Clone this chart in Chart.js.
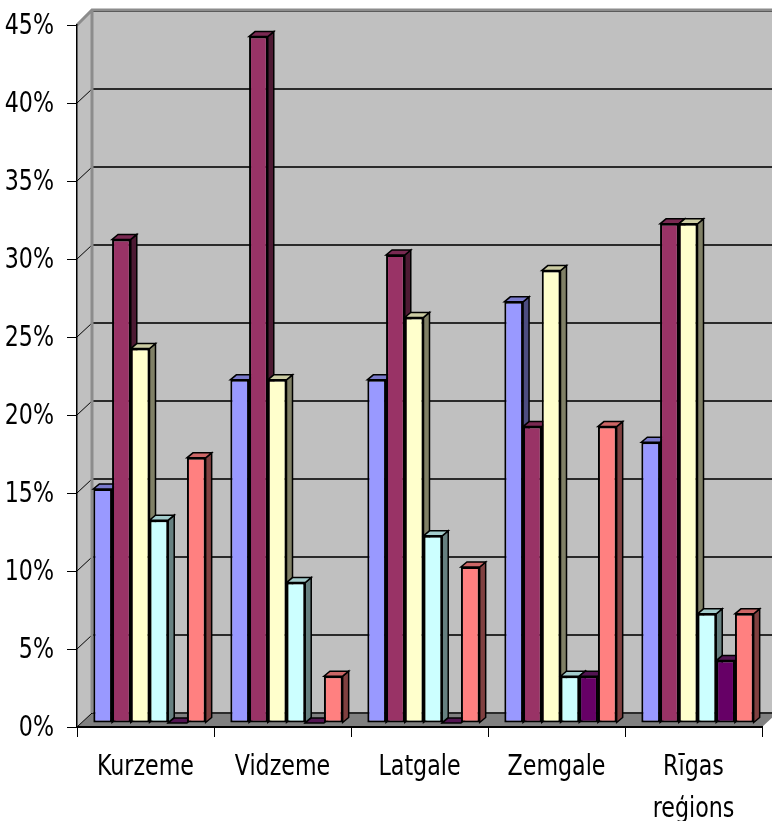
<!DOCTYPE html>
<html>
<head>
<meta charset="utf-8">
<script src="https://cdn.jsdelivr.net/npm/chart.js@4.4.0/dist/chart.umd.min.js"></script>
<style>
  html, body { margin: 0; padding: 0; background: #fff; }
  #wrap { width: 772px; height: 821px; }
</style>
</head>
<body>
<div id="wrap"><canvas id="myChart"></canvas></div>
<script>
const regions = ['Kurzeme', 'Vidzeme', 'Latgale', 'Zemgale', ['Rīgas', 'reģions']];

// shares per region, %
const s1 = [15, 22, 22, 27, 18];
const s2 = [31, 44, 30, 19, 32];
const s3 = [24, 22, 26, 29, 32];
const s4 = [13, 9, 12, 3, 7];
const s5 = [0, 0, 0, 3, 4];
const s6 = [17, 3, 10, 19, 7];

const fronts = ['#9999FF', '#993366', '#FFFFCC', '#CCFFFF', '#660066', '#FF8080'];
const tops   = ['#7A7ACC', '#7A2952', '#CCCCA3', '#A3CCCC', '#521452', '#CC6666'];
const sides  = ['#4D4D80', '#4D1A33', '#808066', '#668080', '#330033', '#804040'];

const yTicks = [0, 5, 10, 15, 20, 25, 30, 35, 40, 45];

const WALL = { x: 15, y: 14 };   // depth of the walls
const BAR = { x: 6, y: 5 };      // depth of a column
const SHIFT = { x: 4, y: 4 };    // columns sit a bit inside the floor

const fontName = '"DejaVu Sans Condensed", "Liberation Sans Narrow", sans-serif';
const FONT_SIZE = 29;
const SQUEEZE = 0.85;            // narrow the axis text

function poly(ctx, pts, fill, stroke, lw) {
    ctx.beginPath();
    ctx.moveTo(pts[0][0], pts[0][1]);
    for (let i = 1; i < pts.length; i++) ctx.lineTo(pts[i][0], pts[i][1]);
    ctx.closePath();
    if (fill) { ctx.fillStyle = fill; ctx.fill(); }
    if (stroke) { ctx.strokeStyle = stroke; ctx.lineWidth = lw || 1; ctx.stroke(); }
}

function narrowText(ctx, text, x, y, align) {
    ctx.save();
    ctx.translate(x, y);
    ctx.scale(SQUEEZE, 1);
    ctx.textAlign = align;
    ctx.fillText(text, 0, 0);
    ctx.restore();
}

const walls = {
    id: 'walls',
    beforeDraw(chart) {
        const ctx = chart.ctx;
        const a = chart.chartArea;
        const y = chart.scales.y;
        const dx = WALL.x, dy = WALL.y;
        const farRight = a.right + dx;
        ctx.save();
        // back wall
        poly(ctx, [[a.left + dx, a.top - dy], [farRight, a.top - dy], [farRight, a.bottom - dy], [a.left + dx, a.bottom - dy]], '#C0C0C0');
        // left wall
        poly(ctx, [[a.left, a.top], [a.left + dx, a.top - dy], [a.left + dx, a.bottom - dy], [a.left, a.bottom]], '#C0C0C0');
        // floor
        poly(ctx, [[a.left, a.bottom], [a.right, a.bottom], [farRight, a.bottom - dy], [a.left + dx, a.bottom - dy]], '#808080');

        // gridlines on the back and left walls
        yTicks.forEach(v => {
            const py = y.getPixelForValue(v);
            ctx.strokeStyle = '#2A2A2A';
            ctx.lineWidth = 2;
            ctx.beginPath();
            ctx.moveTo(a.left + dx, py - dy);
            ctx.lineTo(farRight, py - dy);
            ctx.stroke();
            ctx.strokeStyle = '#000000';
            ctx.lineWidth = 1;
            ctx.beginPath();
            ctx.moveTo(a.left, py);
            ctx.lineTo(a.left + dx, py - dy);
            ctx.stroke();
        });

        // wall edges
        ctx.strokeStyle = '#8C8C8C';
        ctx.lineWidth = 3;
        ctx.beginPath();
        ctx.moveTo(a.left, a.top);
        ctx.lineTo(a.left + dx, a.top - dy - 1);
        ctx.lineTo(farRight, a.top - dy - 1);
        ctx.moveTo(a.left + dx, a.top - dy);
        ctx.lineTo(a.left + dx, a.bottom - dy);
        ctx.stroke();
        ctx.restore();
    },
    beforeDatasetsDraw(chart) {
        const ctx = chart.ctx;
        ctx.save();
        ctx.translate(SHIFT.x, -SHIFT.y);
        // side and top faces, left to right so nearer columns cover them
        const n = chart.data.labels.length;
        for (let j = 0; j < n; j++) {
            chart.data.datasets.forEach((ds, i) => {
                const bar = chart.getDatasetMeta(i).data[j];
                const l = bar.x - bar.width / 2;
                const r = bar.x + bar.width / 2;
                const t = Math.min(bar.y, bar.base);
                const b = bar.base;
                if (b - t > 0) {
                    poly(ctx, [[r, t], [r + BAR.x, t - BAR.y], [r + BAR.x, b - BAR.y], [r, b]], sides[i], '#000', 1.5);
                }
                poly(ctx, [[l, t], [r, t], [r + BAR.x, t - BAR.y], [l + BAR.x, t - BAR.y]], tops[i], '#000', 1.5);
            });
        }
    },
    afterDatasetsDraw(chart) {
        chart.ctx.restore();
    },
    afterDraw(chart) {
        // axis labels
        const ctx = chart.ctx;
        const x = chart.scales.x;
        const y = chart.scales.y;
        ctx.save();
        ctx.fillStyle = '#000';
        ctx.font = FONT_SIZE + 'px ' + fontName;
        ctx.textBaseline = 'middle';
        yTicks.forEach(v => {
            narrowText(ctx, v + '%', y.right - 23, y.getPixelForValue(v) + 1, 'right');
        });
        ctx.textBaseline = 'alphabetic';
        regions.forEach((lab, i) => {
            const cx = x.getPixelForValue(i);
            const lines = Array.isArray(lab) ? lab : [lab];
            lines.forEach((s, k) => {
                narrowText(ctx, s, cx, 775 + k * 42, 'center');
            });
        });
        ctx.restore();
    }
};

const series = [s1, s2, s3, s4, s5, s6];

new Chart(document.getElementById('myChart'), {
    type: 'bar',
    data: {
        labels: regions,
        datasets: series.map((d, i) => ({
            label: 'S' + (i + 1),
            data: d,
            backgroundColor: fronts[i],
            borderColor: '#000000',
            borderWidth: 2,
            borderSkipped: false,
            barPercentage: 1,
            categoryPercentage: 0.82
        }))
    },
    options: {
        responsive: true,
        maintainAspectRatio: false,
        animation: false,
        devicePixelRatio: 1,
        layout: { padding: { top: 25, right: 10, left: 0, bottom: 0 } },
        plugins: {
            legend: { display: false },
            tooltip: { enabled: false }
        },
        scales: {
            x: {
                grid: { drawOnChartArea: false, drawTicks: true, tickLength: 10, color: '#000', offset: true },
                border: { display: true, color: '#000', width: 2 },
                ticks: { display: false },
                afterFit(scale) { scale.height = 94; }
            },
            y: {
                min: 0,
                max: 45,
                grid: { drawOnChartArea: false, drawTicks: true, tickLength: 10, color: '#000' },
                border: { display: true, color: '#000', width: 1.5 },
                ticks: { display: false, stepSize: 5 },
                afterFit(scale) { scale.width = 77; }
            }
        }
    },
    plugins: [walls]
});
</script>
</body>
</html>
